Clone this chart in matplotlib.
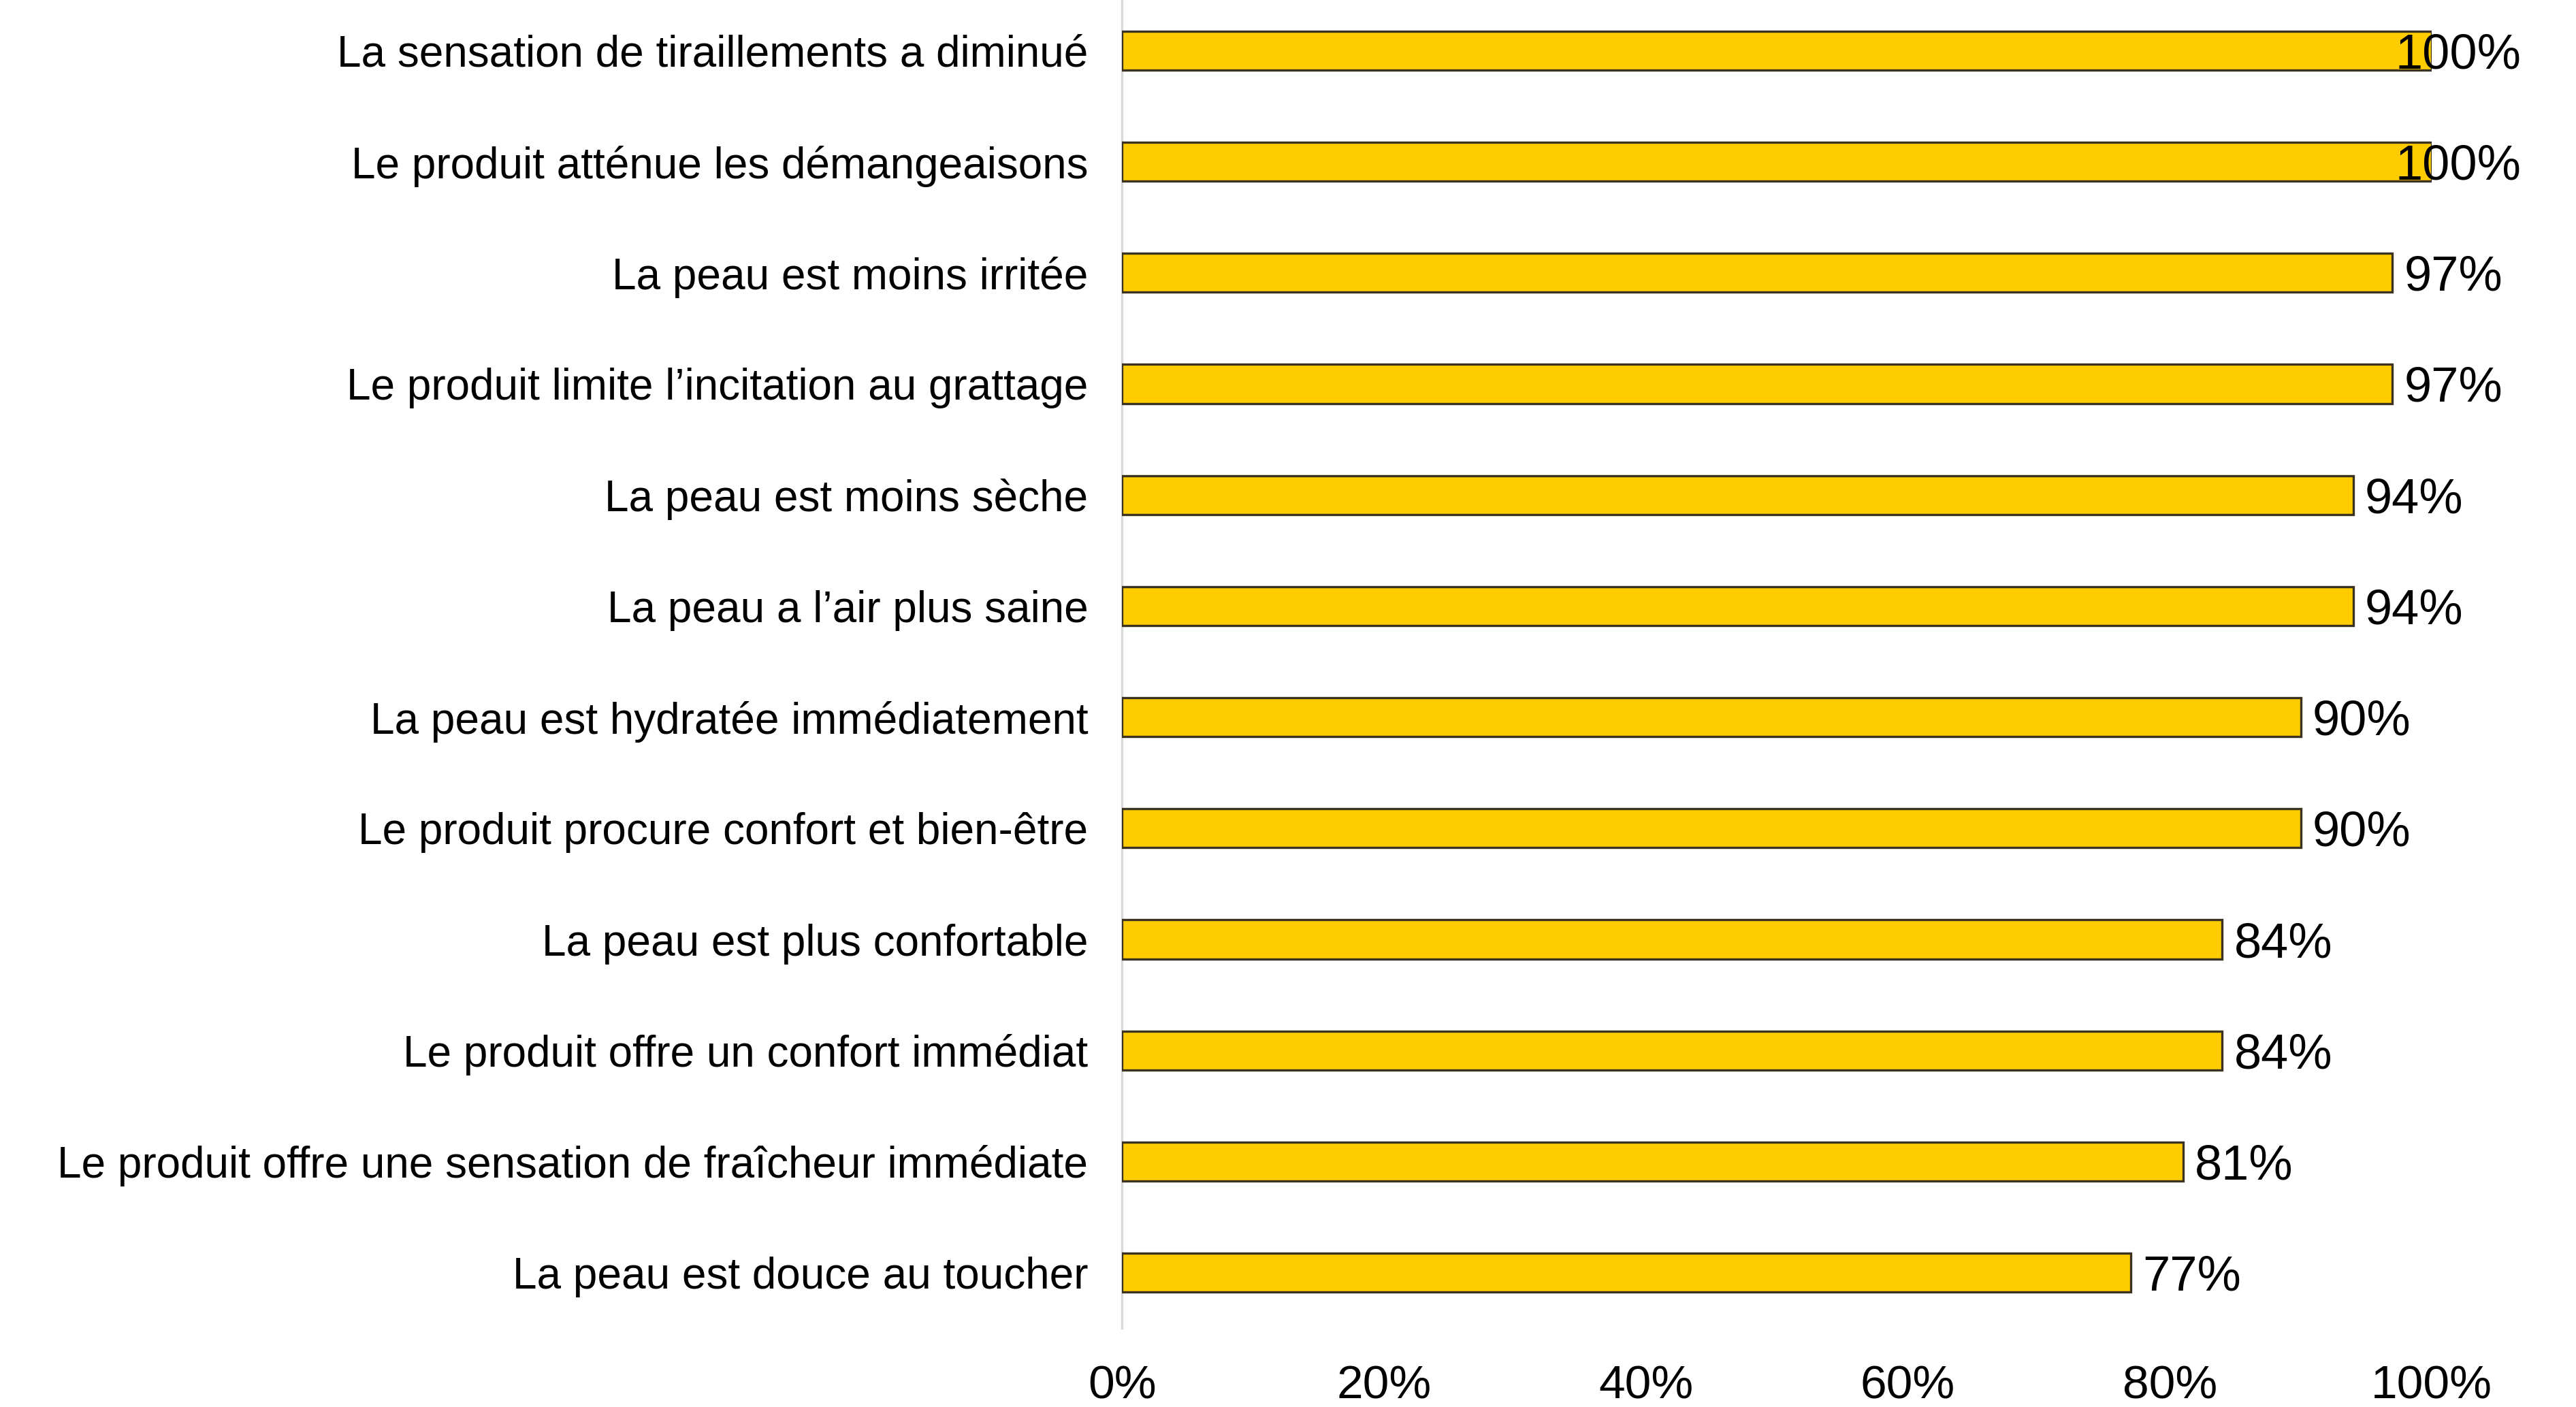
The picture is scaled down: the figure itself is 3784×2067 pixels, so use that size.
import matplotlib.pyplot as plt
from matplotlib.ticker import FuncFormatter

plt.rcParams['font.family'] = ['Liberation Sans', 'DejaVu Sans']

# Survey results (% of agreement), top to bottom
labels = [
    "La sensation de tiraillements a diminué",
    "Le produit atténue les démangeaisons",
    "La peau est moins irritée",
    "Le produit limite l’incitation au grattage",
    "La peau est moins sèche",
    "La peau a l’air plus saine",
    "La peau est hydratée immédiatement",
    "Le produit procure confort et bien-être",
    "La peau est plus confortable",
    "Le produit offre un confort immédiat",
    "Le produit offre une sensation de fraîcheur immédiate",
    "La peau est douce au toucher",
]
values = [100, 100, 97, 97, 94, 94, 90, 90, 84, 84, 81, 77]
xticks = [0, 20, 40, 60, 80, 100]

fig = plt.figure(figsize=(18.92, 10.335), dpi=200)
ax = fig.add_axes([0.4356, 0.0560, 0.5084, 0.9475])

pos = list(range(len(labels)))
ax.barh(pos, values, height=0.35, color='#FFCC00', edgecolor='#3b3222', linewidth=1.2, zorder=3)

# value labels (the 100% ones get pushed back over the bar end)
for p, v in zip(pos, values):
    x = v + 0.9 if v < 100 else 97.2
    ax.text(x, p, f"{v}%", va='center_baseline', ha='left', fontsize=26, zorder=4)

ax.set_ylim(len(labels) - 0.5, -0.5)
ax.set_xlim(0, 100)
ax.set_yticks(pos)
ax.set_yticklabels(labels, fontsize=23)
ax.set_xticks(xticks)
ax.xaxis.set_major_formatter(FuncFormatter(lambda x, _: f"{int(x)}%"))
ax.tick_params(axis='x', labelsize=25, length=0, pad=19)
ax.tick_params(axis='y', length=0, pad=18)

for s in ['top', 'right', 'bottom']:
    ax.spines[s].set_visible(False)
ax.spines['left'].set_color('#d9d9d9')
ax.spines['left'].set_linewidth(1.2)
ax.set_facecolor('none')

fig.savefig('out.png', dpi=200, facecolor='white')
